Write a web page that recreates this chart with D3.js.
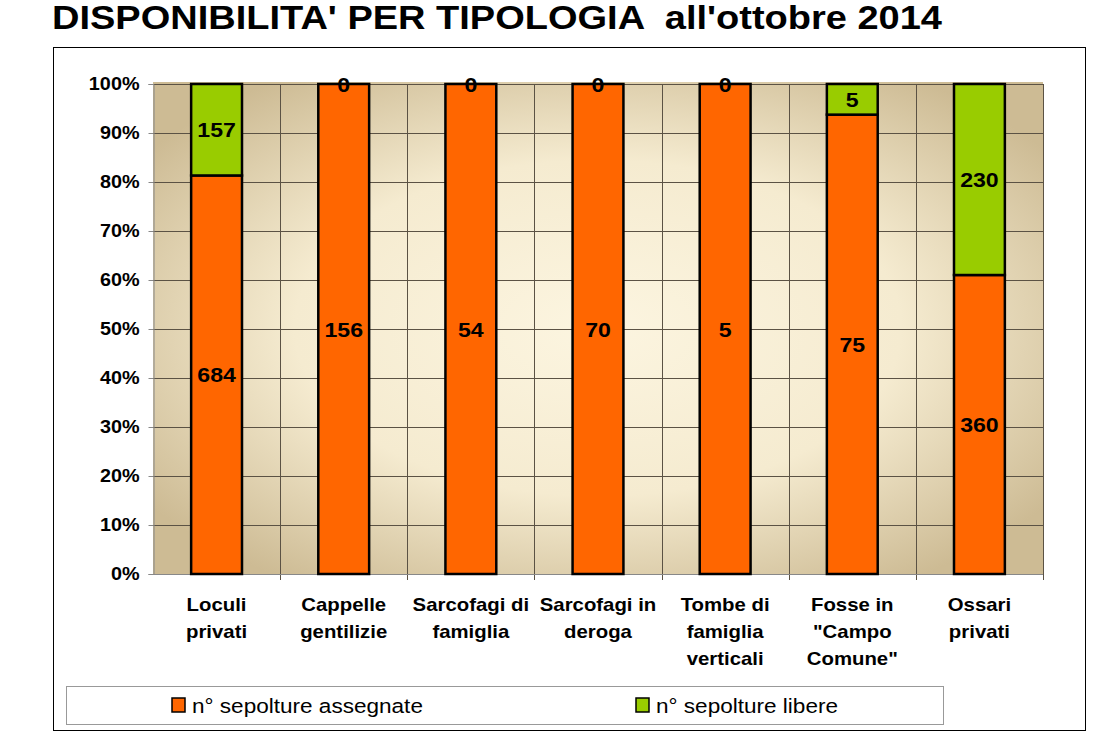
<!DOCTYPE html>
<html lang="it">
<head>
    <meta charset="UTF-8">
    <title>disponibilita per tipologia</title>
    <script type="text/javascript" src="https://d3js.org/d3.v7.min.js"></script>
    <style>
        body { margin: 0; background: #fff; }
        text { font-family: "Liberation Sans", Arial, sans-serif; }
    </style>
</head>
<body>
<svg class="chart"></svg>

<script type="text/javascript">

    const width = 1098;
    const height = 742;

    // data
    const categories = [
        ["Loculi", "privati"],
        ["Cappelle", "gentilizie"],
        ["Sarcofagi di", "famiglia"],
        ["Sarcofagi in", "deroga"],
        ["Tombe di", "famiglia", "verticali"],
        ["Fosse in", "\"Campo", "Comune\""],
        ["Ossari", "privati"]
    ];
    const assegnate = [684, 156, 54, 70, 5, 75, 360];
    const libere = [157, 0, 0, 0, 0, 5, 230];
    const seriesNames = ["n° sepolture assegnate", "n° sepolture libere"];
    const seriesColors = ["#ff6600", "#99cc00"];
    const yTicks = [0, 0.1, 0.2, 0.3, 0.4, 0.5, 0.6, 0.7, 0.8, 0.9, 1];

    let plot = {left: 153, right: 1043, top: 84, bottom: 574};

    let svg = d3.select(".chart")
        .attr("width", width)
        .attr("height", height);

    // the original text is a bit wider than plain Arial
    function stretch(sel, f) {
        sel.each(function () {
            let w = this.getComputedTextLength();
            d3.select(this)
                .attr("textLength", w * f)
                .attr("lengthAdjust", "spacingAndGlyphs");
        });
    }

    let defs = svg.append("defs");
    let grad = defs.append("radialGradient")
        .attr("id", "bg")
        .attr("cx", "50%").attr("cy", "50%").attr("r", "62%");
    grad.append("stop").attr("offset", "0%").attr("stop-color", "#fcf5e0");
    grad.append("stop").attr("offset", "55%").attr("stop-color", "#f5ebd0");
    grad.append("stop").attr("offset", "100%").attr("stop-color", "#cdbb94");

    // title
    svg.append("text")
        .attr("x", 52)
        .attr("y", 29)
        .style("font-size", "33px")
        .style("font-weight", "bold")
        .attr("xml:space", "preserve")
        .attr("textLength", 890)
        .attr("lengthAdjust", "spacingAndGlyphs")
        .text("DISPONIBILITA' PER TIPOLOGIA  all'ottobre 2014");

    // outer frame
    svg.append("rect")
        .attr("x", 53.5).attr("y", 47.5)
        .attr("width", 1032).attr("height", 683)
        .attr("fill", "none")
        .attr("stroke", "#000")
        .attr("stroke-width", 1);

    let x = d3.scaleBand()
        .domain(d3.range(categories.length))
        .range([plot.left, plot.right])
        .paddingInner(0).paddingOuter(0);

    let y = d3.scaleLinear()
        .domain([0, 1])
        .range([plot.bottom, plot.top]);

    // plot background
    svg.append("rect")
        .attr("x", plot.left).attr("y", plot.top - 2)
        .attr("width", plot.right - plot.left)
        .attr("height", plot.bottom - plot.top + 2)
        .attr("fill", "url(#bg)");

    let g = svg.append("g");

    // horizontal grid
    g.selectAll(".hgrid").data(yTicks.slice(1)).enter().append("line")
        .attr("x1", plot.left).attr("x2", plot.right)
        .attr("y1", d => Math.round(y(d)) + 0.5)
        .attr("y2", d => Math.round(y(d)) + 0.5)
        .attr("stroke", "#5b5244").attr("stroke-width", 1);

    // vertical grid at category boundaries
    let bounds = d3.range(1, categories.length + 1).map(i => plot.left + i * x.bandwidth());
    g.selectAll(".vgrid").data(bounds).enter().append("line")
        .attr("x1", d => Math.round(d) + 0.5).attr("x2", d => Math.round(d) + 0.5)
        .attr("y1", plot.top).attr("y2", plot.bottom + 6)
        .attr("stroke", "#5b5244").attr("stroke-width", 1);

    // axes
    let yAxis = d3.axisLeft(y)
        .tickValues(yTicks)
        .tickFormat(d3.format(".0%"))
        .tickSize(5)
        .tickPadding(9);
    let ya = svg.append("g")
        .attr("transform", "translate(" + (plot.left + 0.5) + ",0)")
        .call(yAxis);
    ya.select(".domain").attr("stroke", "#888");
    ya.selectAll(".tick line").attr("stroke", "#888");
    ya.selectAll(".tick text")
        .style("font-size", "18px")
        .style("font-weight", "bold")
        .attr("fill", "#000")
        .call(stretch, 1.1);

    svg.append("line")
        .attr("x1", plot.left).attr("x2", plot.right)
        .attr("y1", plot.bottom + 0.5).attr("y2", plot.bottom + 0.5)
        .attr("stroke", "#888");

    // stacked bars
    let stackData = assegnate.map((a, i) => ({i: i, a: a, l: libere[i], t: a + libere[i]}));
    let barW = x.bandwidth() * 0.4;

    let bars = svg.append("g");
    stackData.forEach(d => {
        let cx = x(d.i) + x.bandwidth() / 2;
        let segs = [
            {y0: 0, y1: d.a / d.t, v: d.a, c: seriesColors[0]},
            {y0: d.a / d.t, y1: 1, v: d.l, c: seriesColors[1]}
        ];
        segs.forEach(s => {
            bars.append("rect")
                .attr("x", cx - barW / 2)
                .attr("y", y(s.y1))
                .attr("width", barW)
                .attr("height", y(s.y0) - y(s.y1))
                .attr("fill", s.c)
                .attr("stroke", "#000")
                .attr("stroke-width", 2.5);
        });
        segs.forEach(s => {
            bars.append("text")
                .attr("x", cx)
                .attr("y", (y(s.y0) + y(s.y1)) / 2)
                .attr("dy", "0.36em")
                .attr("text-anchor", "middle")
                .style("font-size", "21px")
                .style("font-weight", "bold")
                .text(s.v)
                .call(stretch, 1.1);
        });
    });

    // category labels
    let xl = svg.append("g");
    categories.forEach((lines, i) => {
        lines.forEach((ln, k) => {
            xl.append("text")
                .attr("x", x(i) + x.bandwidth() / 2)
                .attr("y", 611 + k * 27)
                .attr("text-anchor", "middle")
                .style("font-size", "18.5px")
                .style("font-weight", "bold")
                .text(ln)
                .call(stretch, 1.1);
        });
    });

    // legend
    svg.append("rect")
        .attr("x", 66.5).attr("y", 686.5)
        .attr("width", 877).attr("height", 38)
        .attr("fill", "#fff")
        .attr("stroke", "#999");

    let legX = [172, 636];
    seriesNames.forEach((n, i) => {
        svg.append("rect")
            .attr("x", legX[i]).attr("y", 698)
            .attr("width", 13).attr("height", 14)
            .attr("fill", seriesColors[i])
            .attr("stroke", "#000").attr("stroke-width", 1.5);
        svg.append("text")
            .attr("x", legX[i] + 20).attr("y", 713)
            .style("font-size", "20.5px")
            .text(n)
            .call(stretch, 1.1);
    });

</script>

</body>
</html>
